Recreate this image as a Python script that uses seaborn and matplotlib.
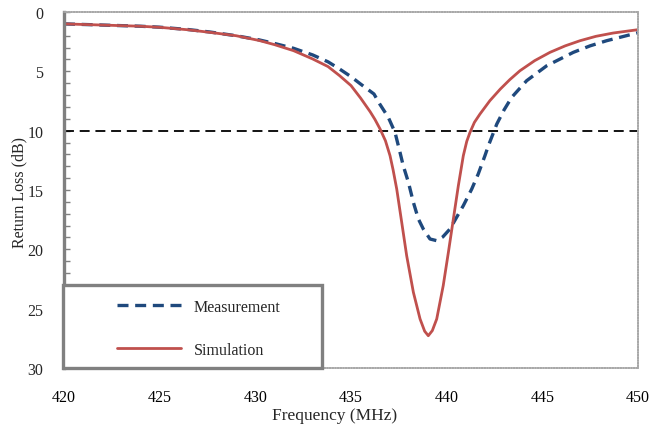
import matplotlib
matplotlib.use("Agg")
import matplotlib.pyplot as plt
from matplotlib.patches import Rectangle
from matplotlib.ticker import MultipleLocator
import seaborn as sns
import pandas as pd

# Data
meas_freq = [420, 422, 424, 425, 426.5, 427.6, 429, 430.2, 431, 432, 433, 433.8,
             434.4, 435, 435.5, 436.2, 436.5, 436.95, 437.3, 437.56, 437.73,
             438.0, 438.26, 438.52, 438.78, 439.13, 439.48, 439.8, 440.17,
             440.52, 440.87, 441.31, 441.65, 442.0, 442.18, 442.62, 443.0,
             443.4, 444.18, 445.23, 446.62, 447.5, 448.36, 449.75, 450]
meas_rl = [1.0, 1.1, 1.2, 1.28, 1.48, 1.68, 2.0, 2.35, 2.65, 3.06, 3.62, 4.2,
           4.8, 5.45, 6.07, 6.91, 7.75, 8.88, 10.14, 11.82, 12.95,
           14.35, 16.04, 17.44, 18.29, 19.13, 19.27, 18.95, 18.29,
           17.3, 16.32, 14.92, 13.65, 12.11, 11.27, 9.44, 8.25,
           7.19, 5.79, 4.53, 3.4, 2.85, 2.42, 1.85, 1.75]

sim_freq = [420, 422, 424, 425, 426.5, 427.6, 429, 430.2, 431, 432, 433, 433.8,
            434.4, 435, 435.5, 436.0, 436.25, 436.52, 436.8, 437.04, 437.2,
            437.39, 437.65, 437.91, 438.26, 438.61, 438.85, 439.04, 439.25,
            439.48, 439.82, 440.09, 440.35, 440.61, 440.87, 441.05, 441.22,
            441.45, 441.74, 442.26, 442.8, 443.3, 443.83, 444.6, 445.4, 446.2,
            446.97, 447.8, 448.71, 450]
sim_rl = [1.0, 1.1, 1.2, 1.29, 1.5, 1.71, 2.0, 2.4, 2.75, 3.26, 3.96, 4.6,
          5.36, 6.2, 7.25, 8.4, 9.05, 9.86, 10.85, 12.11, 13.3,
          14.92, 17.72, 20.54, 23.62, 25.87, 26.9, 27.28, 26.85,
          25.87, 23.06, 20.25, 17.44, 14.64, 12.11, 10.9, 10.14,
          9.3, 8.6, 7.47, 6.5, 5.7, 4.95, 4.1, 3.4, 2.85,
          2.42, 2.05, 1.77, 1.49]

threshold = 10
x_ticks = [420, 425, 430, 435, 440, 445, 450]
y_ticks = [0, 5, 10, 15, 20, 25, 30]
x_label = "Frequency (MHz)"
y_label = "Return Loss (dB)"
labels = ["Measurement", "Simulation"]

sns.set_theme(style="white")
plt.rcParams['font.family'] = ['Liberation Serif', 'DejaVu Serif']

fig = plt.figure(figsize=(6.52, 4.27), dpi=100)
ax = fig.add_axes([64/652, 1-369/427, 574/652, 356/427])

df_m = pd.DataFrame({"f": meas_freq, "rl": meas_rl})
df_s = pd.DataFrame({"f": sim_freq, "rl": sim_rl})

sns.lineplot(data=df_m, x="f", y="rl", ax=ax, color="#1F497D", lw=2.4,
             estimator=None, sort=False, label=labels[0])
sns.lineplot(data=df_s, x="f", y="rl", ax=ax, color="#C0504D", lw=2.0,
             estimator=None, sort=False, label=labels[1])
ax.lines[0].set_dashes((3.3, 2.0))
for ln in ax.lines:
    ln.set_solid_joinstyle("round")
    ln.set_dash_joinstyle("round")

ax.axhline(threshold, color="black", lw=1.3, linestyle=(0, (5.5, 3.2)), zorder=1)

ax.set_xlim(420, 450)
ax.set_ylim(30, 0)
ax.set_xticks(x_ticks)
ax.set_yticks(y_ticks)
ax.yaxis.set_minor_locator(MultipleLocator(1))
ax.tick_params(axis="x", length=0, pad=15, labelsize=11.5, colors="black")
ax.tick_params(axis="y", which="both", direction="in", length=4, width=1,
               color="#808080", pad=15, labelsize=11.5, left=True)
ax.set_xlabel(x_label, fontsize=12.5)
ax.set_ylabel(y_label, fontsize=11.5)
ax.xaxis.set_label_coords((335 - 64) / 574, -(416 - 369) / 356)
ax.xaxis.label.set_va("center")
ax.yaxis.set_label_coords(-(64 - 19) / 574, (369 - 193) / 356)
ax.yaxis.label.set_va("center")

for side in ["top", "right", "bottom"]:
    ax.spines[side].set_color("#a8a8a8")
    ax.spines[side].set_linewidth(1.2)
    ax.spines[side].set_linestyle((0, (1, 0.6)))
ax.spines["left"].set_color("#808080")
ax.spines["left"].set_linewidth(2.4)

# legend box
rect = Rectangle((-0.002, 0.0), 0.4515, 0.233, transform=ax.transAxes,
                 facecolor="white", edgecolor="#808080", lw=2.4,
                 clip_on=False, zorder=5)
ax.add_patch(rect)
leg = ax.legend(loc="center left", bbox_to_anchor=((117 - 64) / 574, (369 - 329.5) / 356),
                frameon=False, fontsize=11.5, handlelength=4.0,
                handletextpad=0.8, labelspacing=1.7, borderpad=0,
                borderaxespad=0)
leg.set_zorder(6)

fig.savefig("out.png", dpi=100)
